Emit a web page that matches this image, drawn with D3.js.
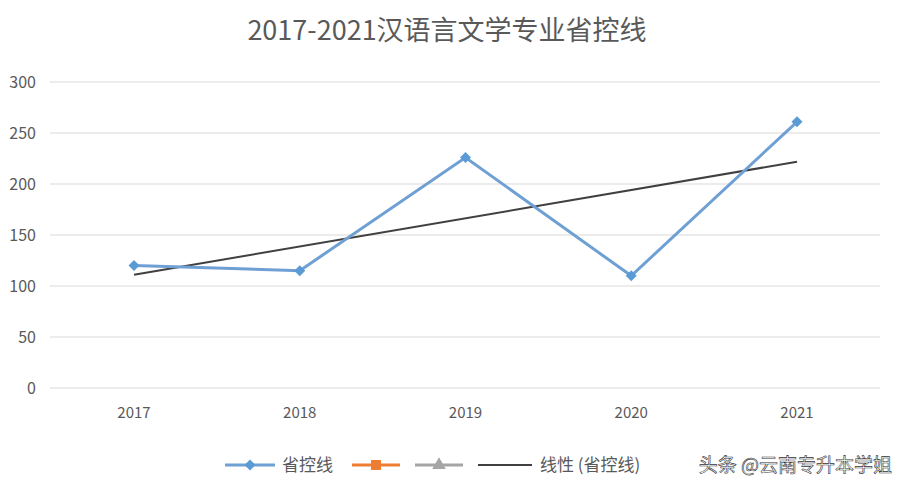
<!DOCTYPE html>
<html><head><meta charset="utf-8">
<script src="https://cdn.jsdelivr.net/npm/d3@7"></script>
<style>body{margin:0;background:#fff}</style></head>
<body><svg id="c" width="900" height="492"></svg>
<script>
const years = ["2017","2018","2019","2020","2021"];
const scores = [120,115,226,110,261];
const yTicks = [0,50,100,150,200,250,300];

const svg = d3.select("#c");
const font = "'Noto Sans CJK SC','Noto Sans',sans-serif";
const x = d3.scalePoint().domain(years).range([134,797]);
const y = d3.scaleLinear().domain([0,300]).range([388,82]);
const diamond = d3.symbol(d3.symbolSquare,60);

svg.append("text").attr("x",447).attr("y",40).attr("text-anchor","middle")
  .attr("font-family",font).attr("font-size",27).attr("fill","#595959")
  .text("2017-2021汉语言文学专业省控线");

yTicks.forEach(t=>{
  svg.append("line").attr("x1",50).attr("x2",880).attr("y1",y(t)).attr("y2",y(t))
    .attr("stroke","#d9d9d9").attr("stroke-width",1);
  svg.append("text").attr("x",36).attr("y",y(t)+6).attr("text-anchor","end")
    .attr("font-family",font).attr("font-size",16).attr("fill","#595959").text(t);
});
years.forEach(v=>{
  svg.append("text").attr("x",x(v)).attr("y",418).attr("text-anchor","middle")
    .attr("font-family",font).attr("font-size",15).attr("fill","#595959").text(v);
});

const n=scores.length, mx=(n-1)/2, my=d3.mean(scores);
let num=0,den=0; scores.forEach((s,i)=>{num+=(i-mx)*(s-my);den+=(i-mx)**2;});
const b=num/den, a=my-b*mx;
svg.append("line").attr("x1",x(years[0])).attr("y1",y(a)).attr("x2",x(years[n-1])).attr("y2",y(a+b*(n-1)))
  .attr("stroke","#404040").attr("stroke-width",2);

svg.append("path").datum(scores)
  .attr("d",d3.line().x((d,i)=>x(years[i])).y(d=>y(d)))
  .attr("fill","none").attr("stroke","#6fa0d4").attr("stroke-width",3);
svg.selectAll(".m").data(scores).enter().append("path")
  .attr("transform",(d,i)=>`translate(${x(years[i])},${y(d)}) rotate(45)`)
  .attr("d",diamond).attr("fill","#5b9bd5");

const ly=465, lf=17;
const g=svg.append("g");
g.append("line").attr("x1",225).attr("x2",275).attr("y1",ly).attr("y2",ly).attr("stroke","#6fa0d4").attr("stroke-width",3);
g.append("path").attr("transform",`translate(250,${ly}) rotate(45)`).attr("d",diamond).attr("fill","#5b9bd5");
g.append("text").attr("x",282).attr("y",ly+6).attr("font-family",font).attr("font-size",lf).attr("fill","#595959").text("省控线");
g.append("line").attr("x1",352).attr("x2",400).attr("y1",ly).attr("y2",ly).attr("stroke","#ed7d31").attr("stroke-width",3);
g.append("rect").attr("x",371).attr("y",ly-5).attr("width",10).attr("height",10).attr("fill","#ed7d31");
g.append("line").attr("x1",415).attr("x2",463).attr("y1",ly).attr("y2",ly).attr("stroke","#a5a5a5").attr("stroke-width",3);
g.append("path").attr("transform",`translate(439,${ly})`).attr("d",d3.symbol(d3.symbolTriangle,80)).attr("fill","#a5a5a5");
g.append("line").attr("x1",478).attr("x2",532).attr("y1",ly).attr("y2",ly).attr("stroke","#404040").attr("stroke-width",2);
g.append("text").attr("x",540).attr("y",ly+6).attr("font-family",font).attr("font-size",lf).attr("fill","#595959").text("线性 (省控线)");
svg.append("text").attr("x",892).attr("y",ly+7).attr("text-anchor","end").attr("font-family",font).attr("font-size",19)
  .attr("fill","#fff").attr("stroke","#333").attr("stroke-width",0.6).text("头条 @云南专升本学姐");
</script></body></html>
